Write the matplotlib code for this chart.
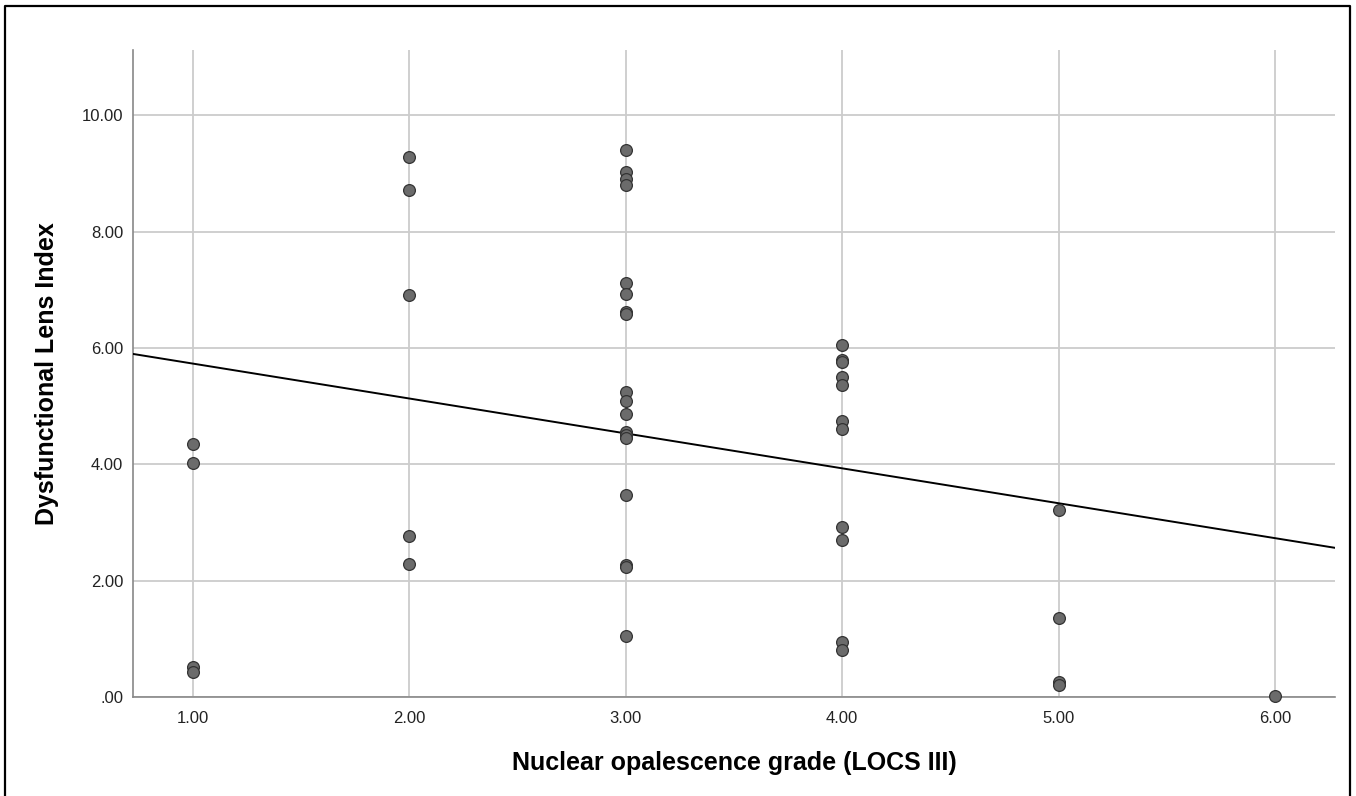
import numpy as np
import matplotlib
matplotlib.use("Agg")
import matplotlib.pyplot as plt
from matplotlib.lines import Line2D

plt.rcParams['font.family'] = ['Liberation Sans', 'DejaVu Sans']

# Nuclear opalescence grade (LOCS III) and Dysfunctional Lens Index
grade = [1, 1, 1, 1,
         2, 2, 2, 2, 2,
         3, 3, 3, 3, 3, 3, 3, 3, 3, 3, 3, 3, 3, 3, 3, 3, 3, 3,
         4, 4, 4, 4, 4, 4, 4, 4, 4, 4, 4,
         5, 5, 5, 5,
         6]
dli = [4.35, 4.03, 0.52, 0.43,
       9.28, 8.71, 6.91, 2.77, 2.29,
       9.40, 9.03, 8.90, 8.80, 7.12, 6.92, 6.62, 6.58, 5.24, 5.09, 4.87, 4.55, 4.50, 4.45, 3.47, 2.27, 2.24, 1.05,
       6.05, 5.80, 5.76, 5.50, 5.37, 4.75, 4.60, 2.93, 2.69, 0.95, 0.80,
       3.21, 1.36, 0.25, 0.21,
       0.02]

# fit line (intercept, slope) as shown
fit_intercept = 6.33
fit_slope = -0.60

x_ticks = [1, 2, 3, 4, 5, 6]
x_labels = ["1.00", "2.00", "3.00", "4.00", "5.00", "6.00"]
y_ticks = [0, 2, 4, 6, 8, 10]
y_labels = [".00", "2.00", "4.00", "6.00", "8.00", "10.00"]

W, H = 1356, 796
fig = plt.figure(figsize=(W / 100, H / 100), dpi=100)
ax = fig.add_axes([133 / W, 1 - 697 / H, (1335 - 133) / W, (697 - 50) / H])

xlim = (0.723, 6.277)
ax.set_xlim(*xlim)
ax.set_ylim(0, 11.12)

ax.set_xticks(x_ticks)
ax.set_xticklabels(x_labels)
ax.set_yticks(y_ticks)
ax.set_yticklabels(y_labels)
ax.tick_params(axis='both', length=0, labelsize=12, colors='#222222')
ax.tick_params(axis='x', pad=10)
ax.tick_params(axis='y', pad=7)

ax.grid(True, color='#cccccc', linewidth=1.3, zorder=0)
ax.set_axisbelow(True)
for s in ['top', 'right']:
    ax.spines[s].set_visible(False)
for s in ['left', 'bottom']:
    ax.spines[s].set_color('#888888')
    ax.spines[s].set_linewidth(1.2)

xs = np.array(xlim)
ax.plot(xs, fit_intercept + fit_slope * xs, color='black', linewidth=1.4, zorder=3)

ax.scatter(grade, dli, s=72, facecolor='#6b6b6b', edgecolor='#333333',
           linewidth=0.9, zorder=4, clip_on=False)

ax.set_xlabel("Nuclear opalescence grade (LOCS III)", fontsize=18, fontweight='bold')
ax.set_ylabel("Dysfunctional Lens Index", fontsize=18, fontweight='bold')
ax.xaxis.set_label_coords(0.5, -(763 - 697) / (697 - 50) , transform=ax.transAxes)
ax.xaxis.label.set_verticalalignment('center')
ax.yaxis.set_label_coords(-(133 - 47) / (1335 - 133), 0.5, transform=ax.transAxes)
ax.yaxis.label.set_verticalalignment('center')

# outer frame (open at the bottom)
fx0, fx1, fy1 = 5 / W, 1350 / W, 1 - 6 / H
frame = Line2D([fx0, fx0, fx1, fx1], [0, fy1, fy1, 0], transform=fig.transFigure,
               color='black', linewidth=1.6)
fig.add_artist(frame)

fig.savefig("out.png", dpi=100)
